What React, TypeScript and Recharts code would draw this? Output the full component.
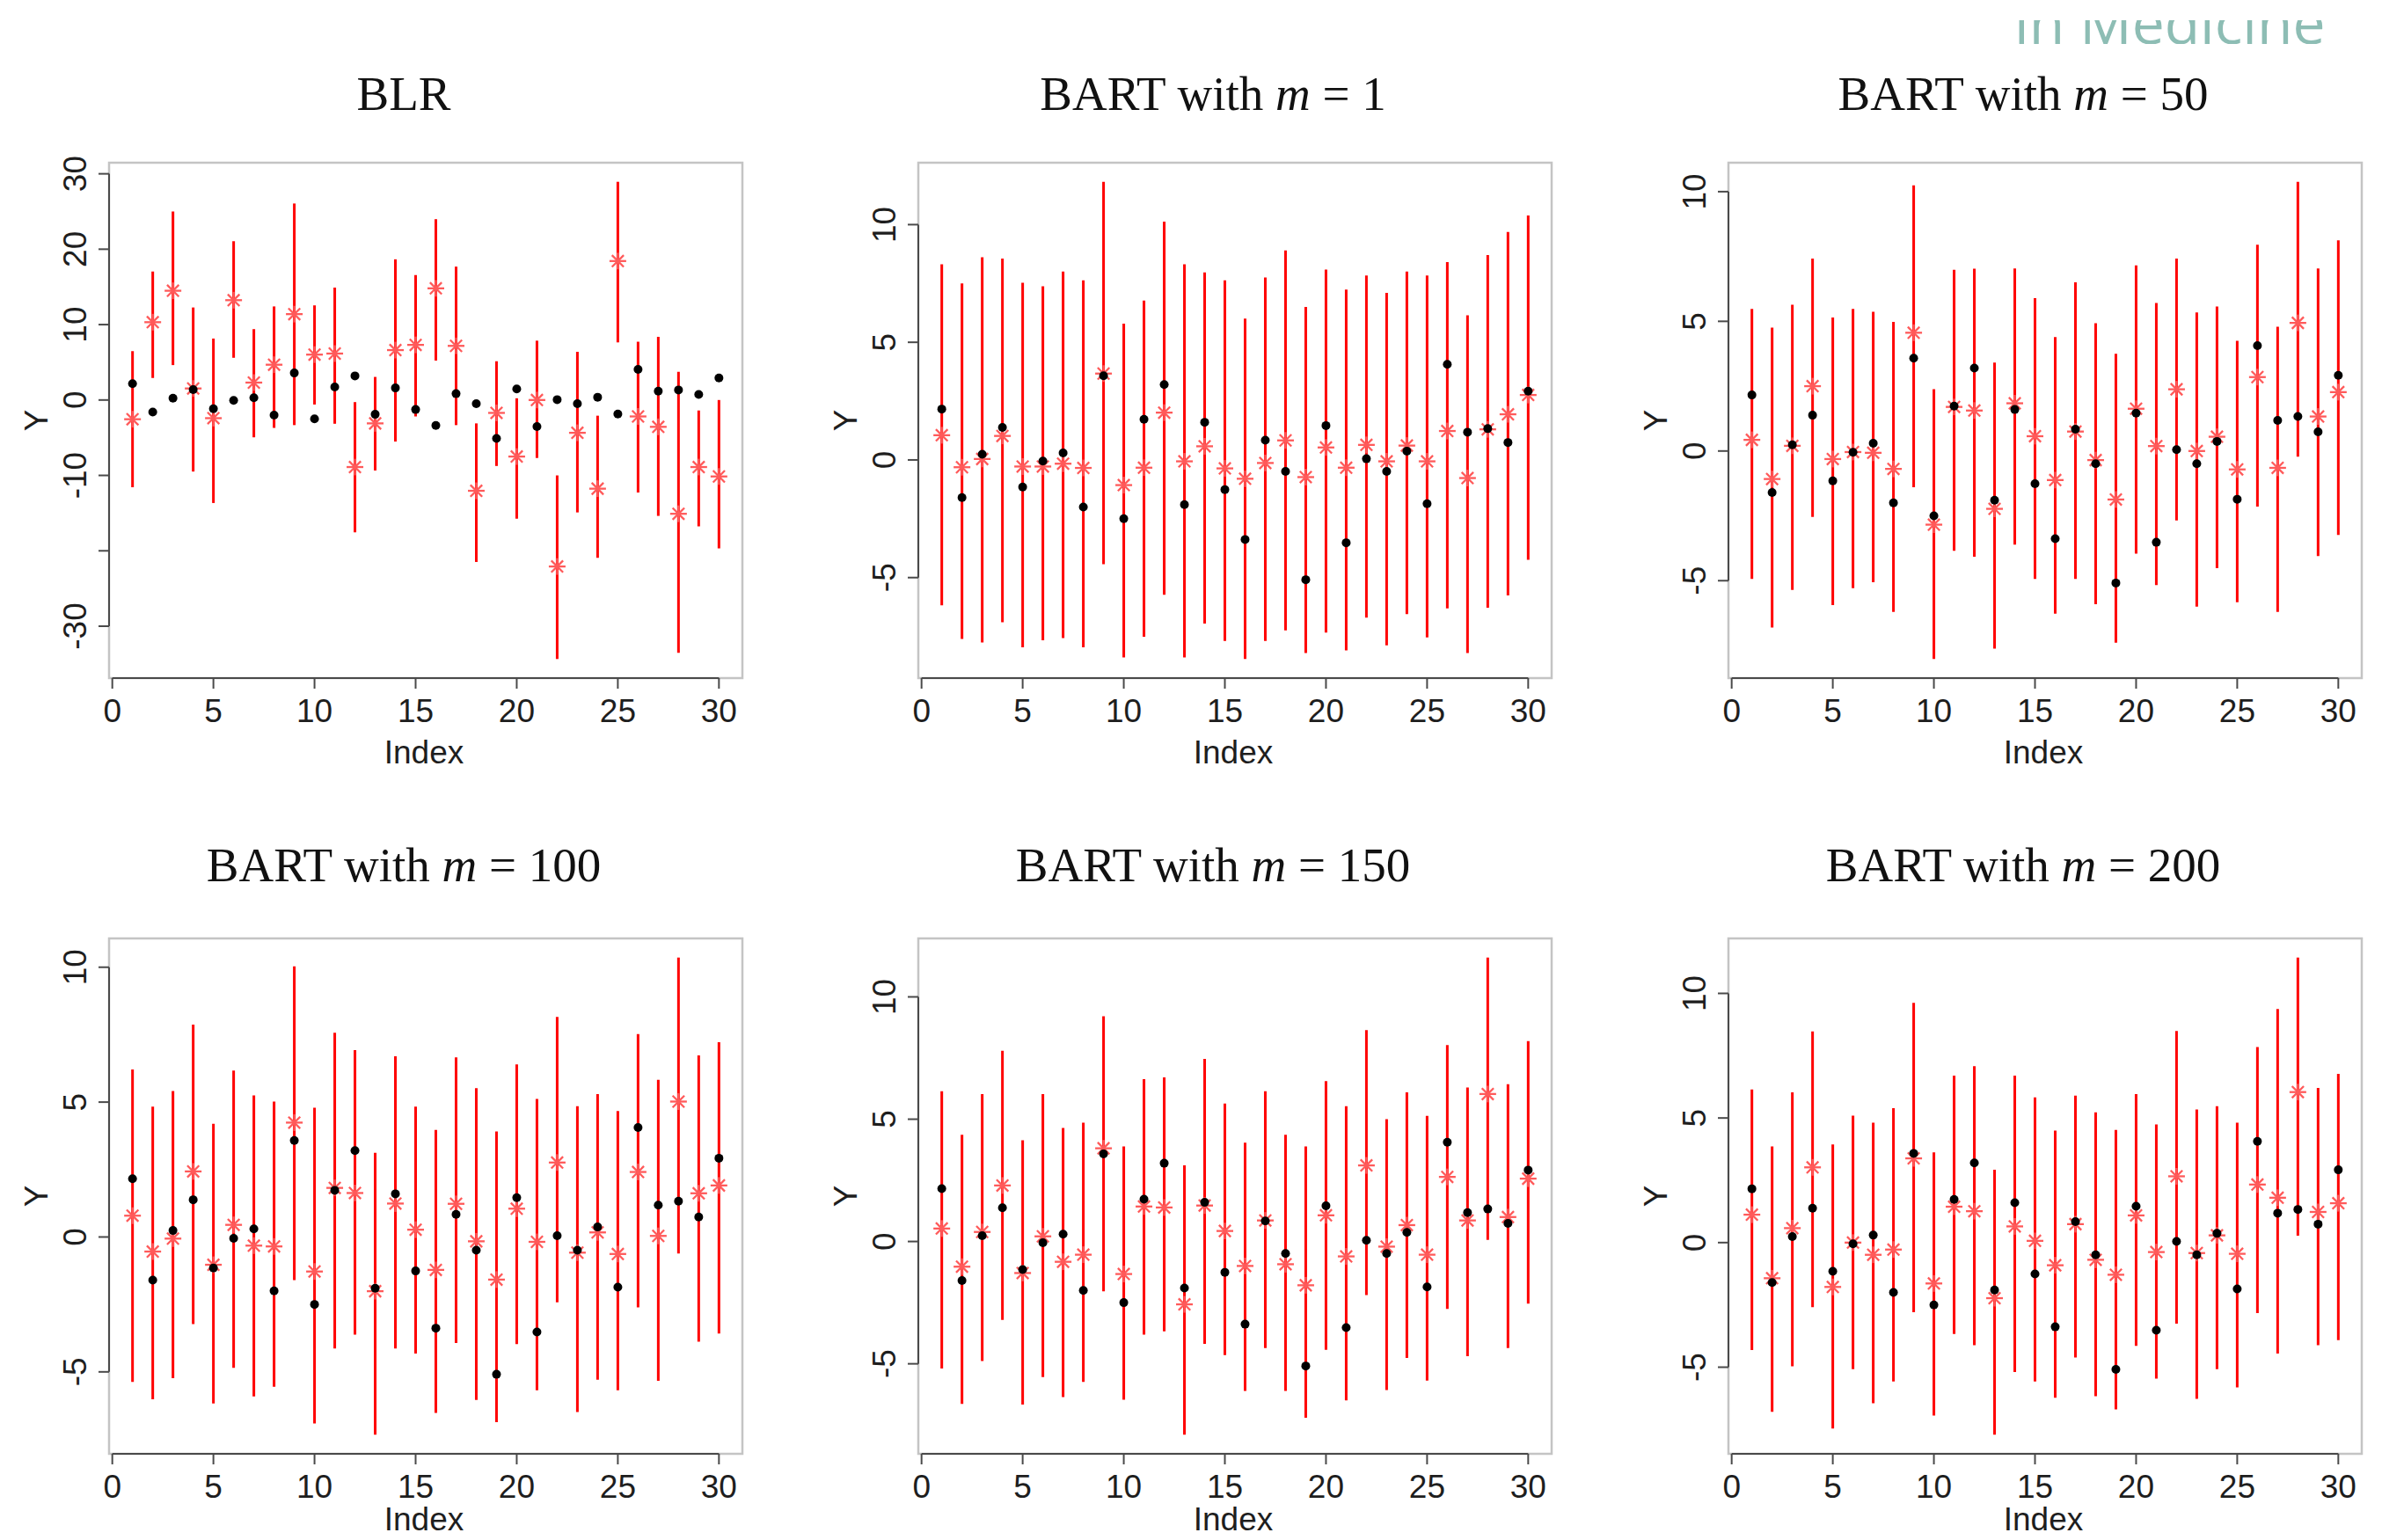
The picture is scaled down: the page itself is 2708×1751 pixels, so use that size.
import React from 'react';
import { ComposedChart, ErrorBar, ReferenceArea, ReferenceLine, Scatter, XAxis, YAxis } from 'recharts';

// index of the 30 test points
const indexVals = [1, 2, 3, 4, 5, 6, 7, 8, 9, 10, 11, 12, 13, 14, 15, 16, 17, 18, 19, 20, 21, 22, 23, 24, 25, 26, 27, 28, 29, 30];

// observed Y (black dots, same in every panel)
const truthY = [2.16, -1.6, 0.24, 1.38, -1.15, -0.05, 0.3, -2.0, 3.58, -2.5, 1.73, 3.2, -1.9, 1.6, -1.26, -3.38, 0.84, -0.49, -5.09, 1.46, -3.52, 0.05, -0.49, 0.37, -1.86, 4.06, 1.18, 1.33, 0.74, 2.92];

// BLR
const blrPred = [-2.55, 10.32, 14.49, 1.53, -2.41, 13.24, 2.31, 4.68, 11.39, 6.02, 6.16, -8.89, -3.1, 6.62, 7.31, 14.81, 7.18, -12.04, -1.71, -7.5, 0.0, -22.08, -4.35, -11.76, 18.43, -2.18, -3.56, -15.09, -8.89, -10.14];
const blrLow = [-11.57, 2.92, 4.63, -9.49, -13.66, 5.6, -4.95, -3.7, -3.33, -0.6, -3.15, -17.55, -9.35, -5.51, -2.18, 5.23, -3.33, -21.48, -8.75, -15.74, -7.69, -34.35, -14.91, -20.93, 7.64, -12.27, -15.37, -33.52, -16.76, -19.68];
const blrHigh = [6.48, 17.04, 25.0, 12.27, 8.15, 21.06, 9.4, 12.41, 26.06, 12.55, 14.91, -0.28, 3.06, 18.66, 16.57, 23.98, 17.69, -3.1, 5.14, 0.23, 7.87, -10.0, 6.39, -2.08, 28.94, 7.73, 8.38, 3.75, -1.39, 0.0];

// BART m = 1
const m1Pred = [1.05, -0.31, 0.04, 1.02, -0.28, -0.28, -0.16, -0.34, 3.67, -1.07, -0.33, 2.01, -0.06, 0.58, -0.36, -0.8, -0.13, 0.83, -0.73, 0.53, -0.33, 0.64, -0.06, 0.61, -0.06, 1.23, -0.77, 1.3, 1.94, 2.76];
const m1Low = [-6.18, -7.61, -7.76, -6.9, -7.96, -7.66, -7.57, -7.96, -4.43, -8.39, -7.51, -5.73, -8.39, -6.95, -7.69, -8.46, -7.69, -7.24, -8.21, -7.34, -8.09, -6.7, -7.88, -6.55, -7.54, -6.31, -8.21, -6.28, -5.76, -4.24];
const m1High = [8.31, 7.5, 8.61, 8.56, 7.53, 7.38, 8.01, 7.63, 11.82, 5.79, 6.77, 10.13, 8.31, 7.97, 7.63, 6.01, 7.75, 8.9, 6.5, 8.09, 7.24, 7.84, 7.1, 8.01, 7.84, 8.41, 6.15, 8.71, 9.69, 10.39];

// BART m = 50
const m50Pred = [0.43, -1.08, 0.2, 2.5, -0.31, -0.04, -0.07, -0.69, 4.56, -2.84, 1.7, 1.56, -2.23, 1.84, 0.57, -1.12, 0.75, -0.35, -1.87, 1.63, 0.19, 2.38, 0.0, 0.55, -0.71, 2.85, -0.65, 4.94, 1.33, 2.27];
const m50Low = [-4.93, -6.81, -5.36, -2.54, -5.94, -5.29, -5.06, -6.2, -1.4, -8.02, -3.85, -4.08, -7.62, -3.61, -4.93, -6.27, -4.93, -5.91, -7.39, -3.96, -5.17, -2.68, -6.0, -4.52, -5.83, -2.14, -6.2, -0.22, -4.05, -3.24];
const m50High = [5.48, 4.76, 5.64, 7.42, 5.15, 5.48, 5.37, 4.98, 10.24, 2.38, 6.99, 7.03, 3.41, 7.04, 5.89, 4.39, 6.5, 4.93, 3.75, 7.16, 5.71, 7.42, 5.34, 5.57, 4.25, 7.95, 4.79, 10.38, 7.04, 8.12];

// BART m = 100
const m100Pred = [0.79, -0.54, -0.06, 2.43, -1.03, 0.45, -0.32, -0.35, 4.24, -1.28, 1.82, 1.63, -2.01, 1.24, 0.27, -1.22, 1.23, -0.16, -1.58, 1.05, -0.18, 2.76, -0.58, 0.17, -0.63, 2.41, 0.04, 5.02, 1.62, 1.91];
const m100Low = [-5.37, -6.02, -5.23, -3.23, -6.17, -4.85, -5.91, -5.55, -1.6, -6.91, -4.13, -3.62, -7.33, -4.13, -4.32, -6.52, -3.93, -6.04, -6.86, -3.97, -5.68, -2.42, -6.49, -5.29, -5.68, -2.61, -5.33, -0.61, -3.88, -3.58];
const m100High = [6.21, 4.83, 5.41, 7.87, 4.2, 6.17, 5.25, 5.02, 10.03, 4.79, 7.57, 6.93, 3.12, 6.7, 4.83, 3.97, 6.66, 5.52, 3.91, 6.4, 5.12, 8.16, 4.85, 5.3, 4.67, 7.52, 5.83, 10.36, 6.73, 7.22];

// BART m = 150
const m150Pred = [0.53, -1.03, 0.39, 2.29, -1.29, 0.21, -0.83, -0.54, 3.81, -1.33, 1.43, 1.39, -2.57, 1.47, 0.43, -1.0, 0.86, -0.93, -1.79, 1.07, -0.61, 3.11, -0.21, 0.67, -0.54, 2.64, 0.86, 6.03, 1.0, 2.57];
const m150Low = [-5.19, -6.64, -4.89, -3.21, -6.67, -5.54, -6.36, -5.74, -2.04, -6.47, -3.81, -3.67, -7.9, -4.19, -4.64, -6.11, -4.36, -6.11, -7.21, -4.43, -6.5, -2.19, -6.07, -4.76, -5.69, -2.76, -4.69, 0.07, -4.36, -2.54];
const m150High = [6.14, 4.36, 6.03, 7.8, 4.14, 6.03, 4.64, 4.86, 9.21, 3.89, 6.64, 6.71, 3.11, 7.46, 5.64, 4.04, 6.14, 4.36, 3.89, 6.56, 5.53, 8.64, 5.0, 6.1, 5.14, 8.03, 6.3, 11.61, 6.43, 8.19];

// BART m = 200
const m200Pred = [1.12, -1.43, 0.58, 3.02, -1.78, 0.0, -0.49, -0.28, 3.38, -1.64, 1.44, 1.26, -2.23, 0.65, 0.07, -0.91, 0.74, -0.69, -1.29, 1.09, -0.38, 2.66, -0.42, 0.29, -0.45, 2.33, 1.8, 6.04, 1.23, 1.58];
const m200Low = [-4.31, -6.79, -4.96, -2.59, -7.46, -5.08, -6.45, -5.57, -2.79, -6.94, -3.67, -4.12, -7.71, -5.19, -5.57, -6.23, -4.61, -6.16, -6.69, -4.14, -5.46, -3.25, -6.27, -5.08, -5.81, -2.83, -4.45, 0.28, -4.12, -3.91];
const m200High = [6.14, 3.86, 6.03, 8.47, 3.94, 5.09, 4.81, 5.39, 9.62, 3.62, 6.7, 7.08, 2.92, 6.7, 5.83, 4.49, 5.9, 5.23, 4.52, 5.96, 4.74, 8.49, 5.34, 5.47, 4.81, 7.85, 9.37, 11.44, 6.21, 6.77];

const xTicks = [0, 5, 10, 15, 20, 25, 30];
const blrTicks = [-30, -20, -10, 0, 10, 20, 30];
const bartTicks = [-5, 0, 5, 10];

type PanelDef = {
  title: string;
  m?: string;
  pred: number[];
  low: number[];
  high: number[];
  yTicks: number[];
  hiddenLabels: number[];
  left: number;
  top: number;
  row: number;
};

const COLS = [124, 1044, 1965];
const ROWS = [185, 1067];

const panels: PanelDef[] = [
  { title: 'BLR', pred: blrPred, low: blrLow, high: blrHigh, yTicks: blrTicks, hiddenLabels: [-20], left: COLS[0], top: ROWS[0], row: 0 },
  { title: 'BART with ', m: '1', pred: m1Pred, low: m1Low, high: m1High, yTicks: bartTicks, hiddenLabels: [], left: COLS[1], top: ROWS[0], row: 0 },
  { title: 'BART with ', m: '50', pred: m50Pred, low: m50Low, high: m50High, yTicks: bartTicks, hiddenLabels: [], left: COLS[2], top: ROWS[0], row: 0 },
  { title: 'BART with ', m: '100', pred: m100Pred, low: m100Low, high: m100High, yTicks: bartTicks, hiddenLabels: [], left: COLS[0], top: ROWS[1], row: 1 },
  { title: 'BART with ', m: '150', pred: m150Pred, low: m150Low, high: m150High, yTicks: bartTicks, hiddenLabels: [], left: COLS[1], top: ROWS[1], row: 1 },
  { title: 'BART with ', m: '200', pred: m200Pred, low: m200Low, high: m200High, yTicks: bartTicks, hiddenLabels: [], left: COLS[2], top: ROWS[1], row: 1 },
];

// plot box 720 x 586
const PW = 720;
const PH = 586;
const ML = 110;
const MT = 40;
const MR = 20;
const MB = 110;

const SANS = '"Liberation Sans", Arial, Helvetica, sans-serif';
const SERIF = '"Liberation Serif", "Times New Roman", serif';
const TICK_FS = 37;
const TITLE_DY = [-60, -65];
const INDEX_DY = [97, 87];

// R style axis range: data range + 4% each side
const rRange = (lo: number[], hi: number[]): [number, number] => {
  const a = Math.min(...lo, ...truthY);
  const b = Math.max(...hi, ...truthY);
  const pad = (b - a) * 0.04;
  return [a - pad, b + pad];
};
const xDomain: [number, number] = [1 - 29 * 0.04, 30 + 29 * 0.04];

const Star = (props: any) => {
  const { cx, cy } = props;
  const s = 9.5;
  const d = 6.7;
  return (
    <g stroke="#ff5a5a" strokeWidth={2.3}>
      <line x1={cx - s} y1={cy} x2={cx + s} y2={cy} />
      <line x1={cx} y1={cy - s} x2={cx} y2={cy + s} />
      <line x1={cx - d} y1={cy - d} x2={cx + d} y2={cy + d} />
      <line x1={cx - d} y1={cy + d} x2={cx + d} y2={cy - d} />
    </g>
  );
};

const Dot = (props: any) => <circle cx={props.cx} cy={props.cy} r={5} fill="#000" />;

const XTick = (props: any) => (
  <text x={props.x} y={props.y + 36} textAnchor="middle" fontFamily={SANS} fontSize={TICK_FS} fill="#1e1e1e">
    {props.payload.value}
  </text>
);

const makeYTick = (hidden: number[]) => (props: any) => {
  const v = props.payload.value;
  if (hidden.includes(v)) return <g />;
  const bx = props.x - 12;
  return (
    <text x={bx} y={props.y} textAnchor="middle" transform={`rotate(-90 ${bx} ${props.y})`} fontFamily={SANS} fontSize={TICK_FS} fill="#1e1e1e">
      {v}
    </text>
  );
};

const Panel = ({ p }: { p: PanelDef }) => {
  const rows = p.pred.map((v, i) => ({ x: indexVals[i], y: v, err: [v - p.low[i], p.high[i] - v] }));
  const dots = truthY.map((v, i) => ({ x: indexVals[i], y: v }));
  const [y0, y1] = rRange(p.low, p.high);
  const tickLine = { stroke: '#4a4a4a', strokeWidth: 2 };
  return (
    <div style={{ position: 'absolute', left: p.left - ML, top: p.top - MT }}>
      <ComposedChart width={PW + ML + MR} height={PH + MT + MB} margin={{ top: MT, right: MR, bottom: 0, left: 0 }}>
        <XAxis type="number" dataKey="x" domain={xDomain} ticks={xTicks} interval={0} allowDataOverflow height={MB}
          tickSize={12} axisLine={false} tickLine={tickLine} tick={XTick} />
        <YAxis type="number" dataKey="y" domain={[y0, y1]} ticks={p.yTicks} interval={0} allowDataOverflow width={ML}
          tickSize={12} axisLine={false} tickLine={tickLine} tick={makeYTick(p.hiddenLabels)} />
        <ReferenceArea x1={xDomain[0]} x2={xDomain[1]} y1={y0} y2={y1} fill="none" fillOpacity={0}
          stroke="#c4c4c4" strokeWidth={2.5} ifOverflow="visible" />
        <ReferenceLine segment={[{ x: xTicks[0], y: y0 }, { x: xTicks[xTicks.length - 1], y: y0 }]}
          stroke="#4a4a4a" strokeWidth={2} ifOverflow="visible" />
        <ReferenceLine segment={[{ x: xDomain[0], y: p.yTicks[0] }, { x: xDomain[0], y: p.yTicks[p.yTicks.length - 1] }]}
          stroke="#4a4a4a" strokeWidth={2} ifOverflow="visible" />
        <Scatter data={rows} dataKey="y" isAnimationActive={false} shape={Star}>
          <ErrorBar dataKey="err" direction="y" width={0} stroke="#ff0000" strokeWidth={3} isAnimationActive={false} />
        </Scatter>
        <Scatter data={dots} dataKey="y" isAnimationActive={false} shape={Dot} />
      </ComposedChart>
    </div>
  );
};

const App = () => {
  return (
    <div style={{ position: 'absolute', left: 0, top: 0, width: 2708, height: 1751, background: '#fff', overflow: 'hidden' }}>
      {panels.map((p, i) => <Panel key={i} p={p} />)}
      <svg width={2708} height={1751} style={{ position: 'absolute', left: 0, top: 0, pointerEvents: 'none' }}>
        {panels.map((p, i) => (
          <g key={i}>
            <text x={p.left + 335} y={p.top + TITLE_DY[p.row]} textAnchor="middle" fontFamily={SERIF} fontSize={55} fill="#111">
              <tspan>{p.title}</tspan>
              {p.m && <tspan fontStyle="italic">m</tspan>}
              {p.m && <tspan>{` = ${p.m}`}</tspan>}
            </text>
            <text x={p.left + 358} y={p.top + PH + INDEX_DY[p.row]} textAnchor="middle" fontFamily={SANS} fontSize={TICK_FS} fill="#1e1e1e">Index</text>
            <text x={p.left - 70} y={p.top + PH / 2} textAnchor="middle" transform={`rotate(-90 ${p.left - 70} ${p.top + PH / 2})`}
              fontFamily={SANS} fontSize={TICK_FS} fill="#1e1e1e">Y</text>
          </g>
        ))}
      </svg>
      <svg width={458} height={27} style={{ position: 'absolute', left: 2250, top: 23 }}>
        <text x={40} y={27} fontFamily='"Open Sans", sans-serif' fontSize={66} fill="#8dbdb4">in Medicine</text>
      </svg>
    </div>
  );
};

export default App;
